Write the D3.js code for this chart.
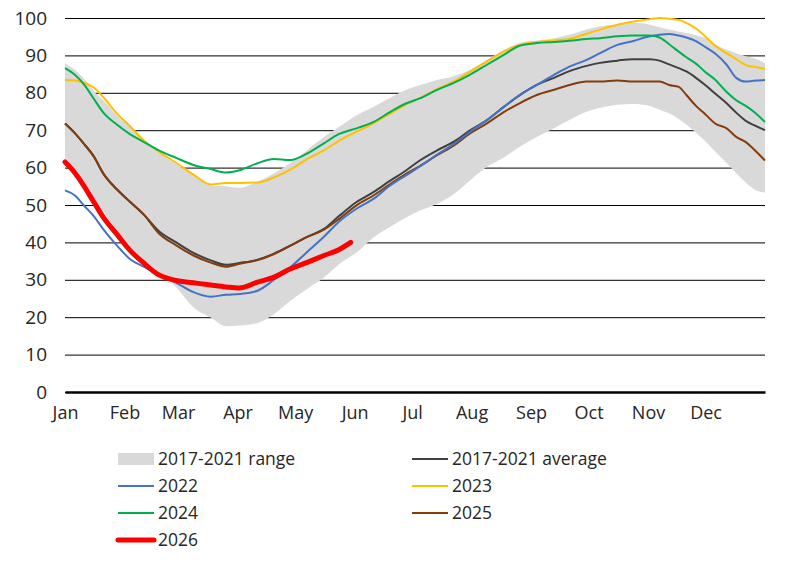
<!DOCTYPE html>
<html>
<head>
<meta charset="utf-8">
<script src="https://cdn.jsdelivr.net/npm/d3@7"></script>
<style>
  body { margin: 0; background: #fff; }
  text { font-family: "Open Sans", "Noto Sans", sans-serif; fill: #262626; }
</style>
</head>
<body>
<div id="chart"></div>
<script>
/* Storage-style seasonal chart, day of year on x */

const width = 789, height = 569,
    margin = ({top: 18, right: 24, bottom: 177, left: 65});

// day-of-year sample points
const days = [0, 5, 10, 15, 20, 27, 34, 41, 49, 58, 67, 76, 84, 91, 100, 109, 117, 126, 135, 143,
  152, 161, 169, 178, 185, 194, 203, 211, 220, 229, 237, 246, 255, 263, 272, 279, 288, 296, 305, 310,
  315, 320, 324, 329, 334, 339, 345, 350, 355, 359, 365];

const rangeHigh = [87.9, 86.2, 83.7, 80.5, 78, 74, 70.8, 67, 64, 61, 57.8, 55.3, 55, 54.6, 56.1, 58.5, 61, 64.6, 68.2, 70.9,
  74, 76.3, 78.5, 80.8, 82, 83.4, 84.5, 86.1, 88.8, 91.5, 93.3, 94, 94.6, 95.5, 96.9, 97.8, 98.2, 98.7, 98.2, 97.5,
  96.9, 96.4, 96, 95.4, 94.6, 93, 91.5, 90.6, 89.8, 89.3, 87.9];
const rangeLow = [62.4, 59.5, 55.8, 51.5, 48.3, 42.8, 38.4, 35.2, 32, 28, 22.6, 19.9, 17.6, 17.8, 18.4, 20.8, 24.2, 27.5, 30.6, 34.2,
  37.3, 41.4, 44, 46.7, 48.5, 50.3, 53, 56.5, 60.2, 62.8, 65.5, 68.2, 70.5, 72.7, 74.9, 76, 76.8, 77, 76.5, 75.5,
  74.5, 73, 71.5, 69.3, 67, 64.3, 61.2, 58.5, 56, 54.3, 53.3];
const avg1721 = [71.8, 69.3, 66.3, 63, 58.4, 54.2, 50.8, 47.5, 43, 40, 37.2, 35.2, 34, 34.5, 35.3, 37, 39, 41.4, 43.6, 47.1,
  50.8, 53.5, 56.3, 59.3, 61.9, 64.6, 67, 69.9, 72.7, 76.3, 79.3, 82.1, 84, 85.8, 87.2, 88, 88.6, 89, 89, 88.6,
  87.6, 86.6, 85.7, 84, 82, 79.8, 77.2, 74.7, 72.5, 71.4, 70];
const y2022 = [53.9, 52.6, 49.8, 47, 43.5, 39.2, 35.5, 33.5, 31.4, 29.2, 26.7, 25.5, 26, 26.2, 27, 30, 33.1, 37.3, 41.5, 45.6,
  49, 51.7, 55, 58, 60.3, 63.5, 66.4, 69.5, 72.7, 76.3, 79.4, 82.1, 84.8, 87, 88.8, 90.6, 92.8, 93.8, 95.1, 95.5,
  95.7, 95.3, 94.8, 93.8, 92.2, 90.5, 87.5, 84, 83, 83.2, 83.4];
const y2023 = [83.4, 83.3, 82.7, 81.4, 78.8, 74.5, 71, 67.3, 64.2, 61.3, 58.1, 55.5, 55.9, 55.9, 56, 57.4, 59.3, 62.2, 64.6, 67.2,
  69.6, 71.9, 74.3, 76.9, 78.6, 81, 83.1, 85.6, 88.4, 91.1, 92.8, 93.6, 94, 94.4, 95.8, 96.9, 98.2, 99, 99.7, 100,
  99.8, 99.5, 98.7, 97.2, 95, 92.6, 90.6, 89, 87.4, 87, 86.4];
const y2024 = [86.6, 84.9, 82.2, 78.4, 74.7, 71.5, 68.9, 66.9, 64.6, 62.6, 60.7, 59.6, 58.7, 59.3, 61.1, 62.3, 62, 63.7, 66.5, 69,
  70.5, 72.2, 74.7, 77.2, 78.5, 80.8, 82.7, 84.8, 87.5, 90.2, 92.6, 93.3, 93.6, 93.9, 94.4, 94.6, 95.1, 95.3, 95.3, 94.8,
  93, 91, 89.5, 87.8, 85.5, 83.5, 80.2, 78, 76.5, 75, 72.2];
const y2025 = [71.8, 69.3, 66.3, 63, 58.4, 54.2, 50.8, 47.5, 42.4, 39.2, 36.5, 34.6, 33.5, 34.3, 35.2, 36.9, 39, 41.4, 43.4, 46.3,
  49.9, 52.6, 55.4, 58.4, 60.4, 63.3, 66, 69.1, 71.8, 74.9, 77.2, 79.4, 80.8, 82.1, 83, 83, 83.3, 83, 83, 83,
  82.1, 81.6, 79.4, 76.5, 74.2, 71.8, 70.5, 68.2, 66.8, 65, 61.9];

// 2026 only runs to early June
const days2026 = [0, 5, 10, 15, 20, 27, 34, 41, 49, 58, 67, 76, 84, 91, 100, 109, 117, 126, 135, 143, 149];
const y2026 = [61.5, 58.7, 55, 50.8, 46.7, 42.2, 37.8, 34.5, 31.3, 29.8, 29.2, 28.6, 28.1, 27.8, 29.3, 30.7, 32.8, 34.6, 36.5, 38.1, 40];

const monthStarts = [0, 31, 59, 90, 120, 151, 181, 212, 243, 273, 304, 334];
const monthLabels = ["Jan", "Feb", "Mar", "Apr", "May", "Jun", "Jul", "Aug", "Sep", "Oct", "Nov", "Dec"];
const yTicks = [0, 10, 20, 30, 40, 50, 60, 70, 80, 90, 100];

const series = [
  {name: "2017-2021 average", values: avg1721, color: "#404040", w: 2},
  {name: "2025", values: y2025, color: "#843C0C", w: 2},
  {name: "2022", values: y2022, color: "#4472C4", w: 2},
  {name: "2023", values: y2023, color: "#FFC000", w: 2},
  {name: "2024", values: y2024, color: "#00B050", w: 2}
];

const svg = d3.select("#chart")
  .append("svg")
  .attr("width", width)
  .attr("height", height);

let x = d3.scaleLinear()
  .domain([0, 365])
  .range([margin.left, width - margin.right]);

let y = d3.scaleLinear()
  .domain([0, 100])
  .range([height - margin.bottom, margin.top]);

// gridlines + y labels
const yAxis = svg.append("g")
  .attr("transform", `translate(${margin.left},0)`)
  .call(d3.axisLeft(y).tickValues(yTicks).tickSize(-(width - margin.left - margin.right)).tickPadding(18));
yAxis.select(".domain").remove();
yAxis.selectAll(".tick line").attr("stroke", "#000").attr("stroke-width", 1);
yAxis.selectAll(".tick text").attr("font-size", 19).attr("fill", "#262626");

// 2017-2021 range band
let area = d3.area()
  .x((d, i) => x(days[i]))
  .y0((d, i) => y(rangeLow[i]))
  .y1((d, i) => y(rangeHigh[i]))
  .curve(d3.curveMonotoneX);

svg.append("path")
  .datum(days)
  .attr("d", area)
  .attr("fill", "#D9D9D9");

let line = d3.line()
  .x((d, i) => x(days[i]))
  .y(d => y(d))
  .curve(d3.curveMonotoneX);

for (let s of series) {
  svg.append("path")
    .datum(s.values)
    .attr("d", line)
    .attr("fill", "none")
    .attr("stroke", s.color)
    .attr("stroke-width", s.w);
}

let line2026 = d3.line()
  .x((d, i) => x(days2026[i]))
  .y(d => y(d))
  .curve(d3.curveMonotoneX);

svg.append("path")
  .datum(y2026)
  .attr("d", line2026)
  .attr("fill", "none")
  .attr("stroke", "#FF0000")
  .attr("stroke-width", 5)
  .attr("stroke-linecap", "round");

// x axis: thick zero line, month labels at month starts
const xAxis = svg.append("g")
  .attr("transform", `translate(0,${y(0)})`)
  .call(d3.axisBottom(x).tickValues(monthStarts).tickSize(0).tickPadding(14)
    .tickFormat((d, i) => monthLabels[i]));
xAxis.select(".domain").attr("stroke", "#000").attr("stroke-width", 2.5);
xAxis.selectAll(".tick text").attr("font-size", 18).attr("fill", "#262626");

// legend, two columns
const legendItems = [
  {name: "2017-2021 range", color: "#D9D9D9", kind: "box"},
  {name: "2017-2021 average", color: "#404040", w: 2},
  {name: "2022", color: "#4472C4", w: 2},
  {name: "2023", color: "#FFC000", w: 2},
  {name: "2024", color: "#00B050", w: 2},
  {name: "2025", color: "#843C0C", w: 2},
  {name: "2026", color: "#FF0000", w: 5}
];

const legend = svg.append("g");
legendItems.forEach((d, i) => {
  const lx = i % 2 === 0 ? 118 : 412;
  const ly = 459 + Math.floor(i / 2) * 27;
  const g = legend.append("g").attr("transform", `translate(${lx},${ly})`);
  if (d.kind === "box") {
    g.append("rect").attr("x", 0).attr("y", -6).attr("width", 36).attr("height", 12).attr("fill", d.color);
  } else {
    g.append("line").attr("x1", 0).attr("x2", 36).attr("y1", 0).attr("y2", 0)
      .attr("stroke", d.color).attr("stroke-width", d.w).attr("stroke-linecap", d.w > 3 ? "round" : "butt");
  }
  g.append("text")
    .attr("x", 40)
    .attr("dy", "0.35em")
    .attr("font-size", 17.5)
    .text(d.name);
});
</script>
</body>
</html>
